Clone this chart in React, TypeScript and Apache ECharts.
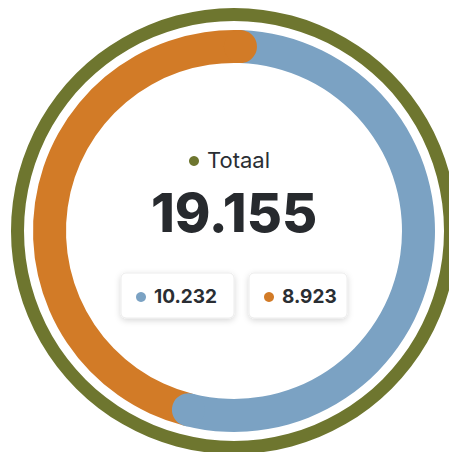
import React, { useEffect, useRef } from 'react';
import * as echarts from 'echarts';

const segmentNames = ['Segment 1', 'Segment 2'];
const segmentValues = [10232, 8923];
const segmentColors = ['#7ba2c3', '#d27b27'];
const totalLabel = 'Totaal';
const totalColor = '#6e762f';
const textColor = '#2a2e33';

const fmt = (n: number) => String(n).replace(/\B(?=(\d{3})+(?!\d))/g, '.');

export default function App() {
  const ref = useRef<HTMLDivElement>(null);
  useEffect(() => {
    const chart = echarts.init(ref.current!, null, { renderer: 'svg' });
    const total = segmentValues.reduce((a, b) => a + b, 0);
    const cx = 234;
    const cy = 231;
    const r0 = 168;
    const r1 = 201;
    const rm = (r0 + r1) / 2;
    const capR = (r1 - r0) / 2;
    const offset = (2 * Math.PI) / 180;
    const angleOf = (v: number) => -Math.PI / 2 + offset + (v / total) * Math.PI * 2;

    const boxes = [
      { x: 121, w: 113 },
      { x: 249, w: 98 },
    ];
    const boxY = 273;
    const boxH = 45;
    const boxEls: any[] = [];
    segmentValues.forEach((v, i) => {
      const b = boxes[i];
      boxEls.push({
        type: 'rect',
        shape: { x: b.x, y: boxY, width: b.w, height: boxH, r: 5 },
        style: {
          fill: '#ffffff',
          stroke: '#ececec',
          lineWidth: 1,
          shadowBlur: 6,
          shadowColor: 'rgba(0,0,0,0.16)',
          shadowOffsetY: 2,
        },
        z: 10,
      });
      boxEls.push({
        type: 'circle',
        shape: { cx: b.x + 20, cy: boxY + 24, r: 5 },
        style: { fill: segmentColors[i] },
        z: 11,
      });
      boxEls.push({
        type: 'text',
        x: b.x + 33,
        y: boxY + 23,
        style: {
          text: fmt(v),
          fill: textColor,
          fontFamily: 'Inter',
          fontWeight: 700,
          fontSize: 19,
          align: 'left',
          verticalAlign: 'middle',
        },
        z: 11,
      });
    });

    chart.setOption({
      animation: false,
      backgroundColor: '#ffffff',
      series: [
        {
          type: 'pie',
          silent: true,
          center: [cx, cy],
          radius: [210, 223],
          label: { show: false },
          labelLine: { show: false },
          emphasis: { disabled: true },
          itemStyle: { color: totalColor },
          data: [{ name: totalLabel, value: total }],
        },
        {
          type: 'custom',
          coordinateSystem: 'none',
          silent: true,
          data: segmentValues.map((v, i) => ({ name: segmentNames[i], value: v })),
          renderItem: (params: any, api: any) => {
            const i = params.dataIndex;
            const start = segmentValues.slice(0, i).reduce((a, b) => a + b, 0);
            const v = api.value(0);
            const a0 = angleOf(start);
            const a1 = angleOf(start + v);
            return {
              type: 'group',
              children: [
                {
                  type: 'sector',
                  shape: { cx, cy, r0, r: r1, startAngle: a0, endAngle: a1, clockwise: true },
                  style: { fill: segmentColors[i] },
                  z2: 1,
                },
                {
                  type: 'circle',
                  shape: { cx: cx + rm * Math.cos(a1), cy: cy + rm * Math.sin(a1), r: capR },
                  style: { fill: segmentColors[i] },
                  z2: 5,
                },
              ],
            };
          },
        },
      ],
      graphic: [
        {
          type: 'circle',
          shape: { cx: 194, cy: 161, r: 5 },
          style: { fill: totalColor },
        },
        {
          type: 'text',
          x: 207,
          y: 160,
          style: {
            text: totalLabel,
            fill: textColor,
            fontFamily: 'Inter',
            fontWeight: 400,
            fontSize: 22,
            align: 'left',
            verticalAlign: 'middle',
          },
        },
        {
          type: 'text',
          x: cx,
          y: 212,
          style: {
            text: fmt(total),
            fill: '#272a2e',
            fontFamily: 'Inter',
            fontWeight: 800,
            fontSize: 54,
            align: 'center',
            verticalAlign: 'middle',
          },
        },
        ...boxEls,
      ],
    });
    return () => chart.dispose();
  }, []);
  return (
    <div
      ref={ref}
      style={{ position: 'fixed', left: 0, top: 0, width: 449, height: 452 }}
    />
  );
}
